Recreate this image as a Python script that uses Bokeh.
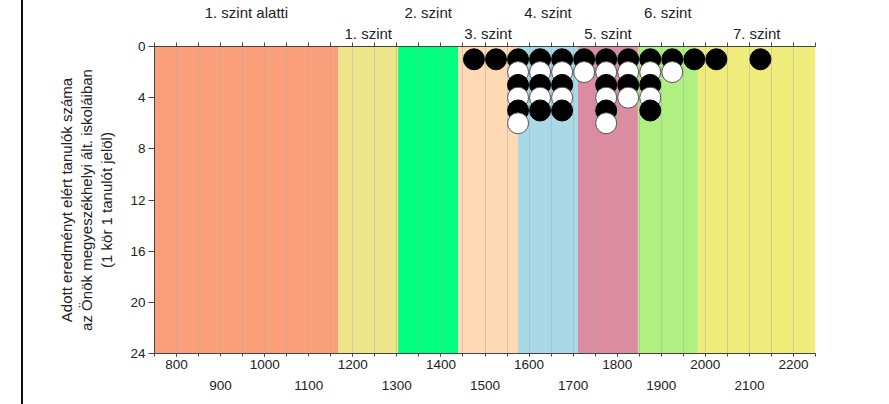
import numpy as np
from bokeh.plotting import figure
from bokeh.layouts import row
from bokeh.models import Range1d, FixedTicker, LinearAxis, Div, ColumnDataSource
from bokeh.embed import file_html
from bokeh.resources import INLINE

# ---- data ----
level_names = ["1. szint alatti", "1. szint", "2. szint", "3. szint",
               "4. szint", "5. szint", "6. szint", "7. szint"]
level_edges = [1167, 1303, 1439, 1575, 1711, 1847, 1983]
level_colors = ["#FBA07A", "#EEE48A", "#00FF7F", "#FFD8B4",
                "#A9D8E6", "#DC8CA0", "#B0F080", "#F0EC7C"]
score_bins = [1475, 1525, 1575, 1625, 1675, 1725, 1775, 1825, 1875, 1925, 1975, 2025, 2125]
stacks = ["B", "B", "BWBWBW", "BWBWB", "BWBWB", "BW", "BWBWBW", "BWBW", "BWBWB", "BW", "B", "B", "B"]
y_ticks = [0, 4, 8, 12, 16, 20, 24]
x_ticks_row1 = [800, 1000, 1200, 1400, 1600, 1800, 2000, 2200]
x_ticks_row2 = [900, 1100, 1300, 1500, 1700, 1900, 2100]
x_lo, x_hi = 750, 2250
y_title = ["Adott eredményt elért tanulók száma",
           "az Önök megyeszékhelyi ált. iskoláiban",
           "(1 kör 1 tanulót jelöl)"]

FONT = "Liberation Sans"
TXT = "#222222"
AX = "#444444"
OFFSET = 23  # width of the left strip with the page border line

p = figure(width=889 - OFFSET, height=404, x_range=Range1d(x_lo, x_hi), y_range=Range1d(24, 0),
           output_backend="svg", toolbar_location=None, margin=0,
           min_border_left=154 - OFFSET, min_border_right=74, min_border_top=45, min_border_bottom=51)
p.outline_line_color = None

fifty = list(range(x_lo, x_hi + 1, 50))

# bands
lefts = [x_lo] + level_edges
rights = level_edges + [x_hi]
p.quad(left=lefts, right=rights, top=0, bottom=24, fill_color=level_colors,
       line_color=None, level="image")

# grid
p.ygrid.visible = False
p.xgrid.ticker = FixedTicker(ticks=fifty[1:-1])
p.xgrid.grid_line_color = "#a8a8a8"
p.xgrid.grid_line_alpha = 0.45
p.xgrid.grid_line_width = 1

# dots, drawn row by row so lower circles overlap upper ones
dx, dy, fc, lc = [], [], [], []
maxlen = max(len(s) for s in stacks)
for i in range(maxlen):
    for xb, st in zip(score_bins, stacks):
        if i < len(st):
            dx.append(xb)
            dy.append(i + 1)
            fc.append("white" if st[i] == "W" else "black")
            lc.append("#555555" if st[i] == "W" else "black")
src = ColumnDataSource(dict(x=dx, y=dy, fc=fc, lc=lc))
p.scatter("x", "y", source=src, size=21, fill_color="fc", line_color="lc", line_width=1)

# y axis
yax = p.yaxis[0]
yax.ticker = FixedTicker(ticks=y_ticks)
yax.axis_line_color = AX
yax.major_tick_line_color = AX
yax.major_tick_out = 6
yax.major_tick_in = 0
yax.minor_tick_line_color = None
yax.major_label_text_font = FONT
yax.major_label_text_font_size = "13.5px"
yax.major_label_text_color = TXT
yax.major_label_standoff = 3
yax.axis_label = "\n".join(y_title)
yax.axis_label_text_font = FONT
yax.axis_label_text_font_size = "15px"
yax.axis_label_text_font_style = "normal"
yax.axis_label_text_color = TXT
yax.axis_label_text_line_height = 1.2
yax.axis_label_standoff = 12

# bottom axes (two label rows)
xax = p.xaxis[0]
xax.ticker = FixedTicker(ticks=x_ticks_row1, minor_ticks=fifty)
xax.axis_line_color = AX
xax.major_tick_line_color = AX
xax.minor_tick_line_color = AX
xax.major_tick_out = 3
xax.major_tick_in = 0
xax.minor_tick_out = 3
xax.minor_tick_in = 0
xax.major_label_text_font = FONT
xax.major_label_text_font_size = "13.5px"
xax.major_label_text_color = TXT
xax.major_label_standoff = 3

xax2 = LinearAxis(ticker=FixedTicker(ticks=x_ticks_row2))
xax2.axis_line_color = None
xax2.major_tick_line_color = None
xax2.minor_tick_line_color = None
xax2.major_label_text_font = FONT
xax2.major_label_text_font_size = "13.5px"
xax2.major_label_text_color = TXT
xax2.major_label_standoff = 3
p.add_layout(xax2, "below")

# top axes: tick marks + level names in two rows
centers = [(l + r) / 2 for l, r in zip(lefts, rights)]
row_near = [c for k, c in enumerate(centers) if k % 2 == 1]
row_far = [c for k, c in enumerate(centers) if k % 2 == 0]

topA = LinearAxis(ticker=FixedTicker(ticks=row_near, minor_ticks=fifty))
topA.axis_line_color = AX
topA.major_tick_line_color = None
topA.major_tick_out = 4
topA.major_tick_in = 0
topA.minor_tick_line_color = AX
topA.minor_tick_out = 4
topA.minor_tick_in = 0
topA.major_label_overrides = {c: level_names[k] for k, c in enumerate(centers) if k % 2 == 1}
topA.major_label_text_font = FONT
topA.major_label_text_font_size = "15px"
topA.major_label_text_color = TXT
topA.major_label_standoff = 1
p.add_layout(topA, "above")

topB = LinearAxis(ticker=FixedTicker(ticks=row_far))
topB.axis_line_color = None
topB.major_tick_line_color = None
topB.minor_tick_line_color = None
topB.major_tick_out = 0
topB.major_label_overrides = {c: level_names[k] for k, c in enumerate(centers) if k % 2 == 0}
topB.major_label_text_font = FONT
topB.major_label_text_font_size = "15px"
topB.major_label_text_color = TXT
topB.major_label_standoff = 1
p.add_layout(topB, "above")

# left strip with the page border line
strip = Div(text="", width=OFFSET, height=404, margin=0,
            styles={"border-right": "2px solid #111111", "box-sizing": "border-box",
                    "height": "404px"})

layout = row(strip, p, spacing=0)
open("out.html", "w").write(file_html(layout, INLINE))
